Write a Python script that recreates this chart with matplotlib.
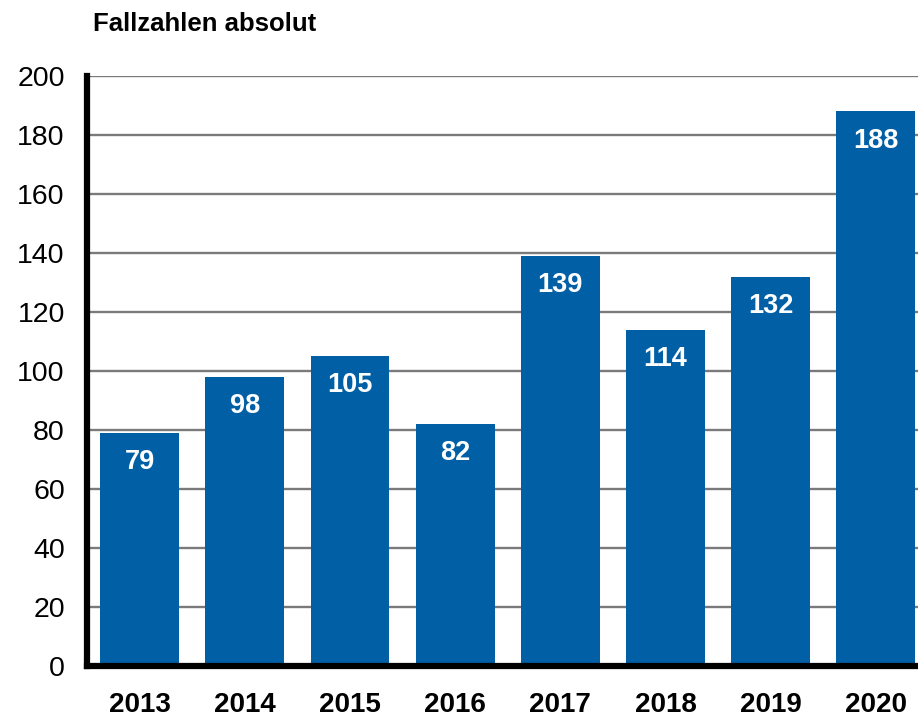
import matplotlib
matplotlib.use("Agg")
import matplotlib.pyplot as plt

years = ["2013", "2014", "2015", "2016", "2017", "2018", "2019", "2020"]
values = [79, 98, 105, 82, 139, 114, 132, 188]
yticks = [0, 20, 40, 60, 80, 100, 120, 140, 160, 180, 200]
title = "Fallzahlen absolut"

plt.rcParams['font.family'] = ['Liberation Sans', 'DejaVu Sans']

fig = plt.figure(figsize=(9.18, 7.18), dpi=100)
ax = fig.add_axes([87/918, 52/718, 1 - 87/918, (666-76)/718])

x = list(range(len(years)))
bars = ax.bar(x, values, width=0.75, color="#005FA5", zorder=3)
for xi, v in zip(x, values):
    ax.annotate(str(v), (xi, v), xytext=(0, -21), textcoords="offset points",
                ha="center", va="center", color="white", fontsize=19.5,
                fontweight="bold", zorder=4)

ax.set_xlim(-0.5, (918 - 139.5) / 105.2)
ax.set_ylim(0, 200)
ax.set_yticks(yticks)
ax.set_yticklabels([str(t) for t in yticks], fontsize=20.5)
ax.set_xticks(x)
ax.set_xticklabels(years, fontsize=20, fontweight="bold")
ax.tick_params(axis="both", length=0)
ax.tick_params(axis="y", pad=16)
ax.tick_params(axis="x", pad=19)
ax.yaxis.grid(True, color="#7a7a7a", linewidth=1.7, zorder=0)
ax.set_axisbelow(True)
for s in ["top", "right"]:
    ax.spines[s].set_visible(False)
ax.spines["left"].set_linewidth(4.5)
ax.spines["bottom"].set_linewidth(4.5)
ax.spines["left"].set_color("black")
ax.spines["bottom"].set_color("black")
ax.spines["left"].set_zorder(5)
ax.spines["bottom"].set_zorder(5)

fig.text(93/918, 1 - 24/718, title, fontsize=18.5, fontweight="bold", va="center", ha="left")

fig.savefig("out.png", dpi=100)
